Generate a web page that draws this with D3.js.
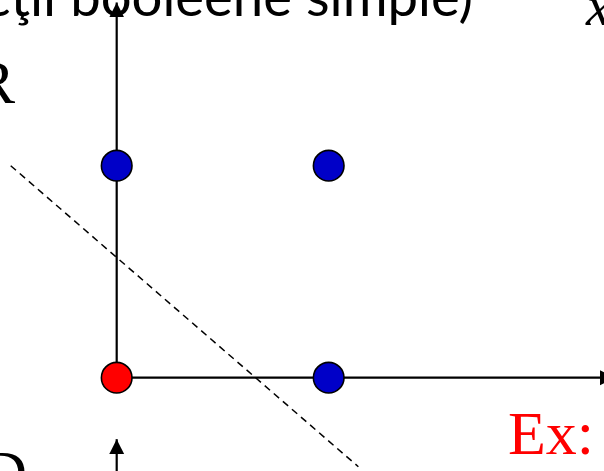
<html>
  <head>
    <meta charset="utf-8" />
    <script src="https://cdnjs.cloudflare.com/ajax/libs/d3/7.8.5/d3.min.js"></script>
    <style>
      body { margin: 0; background: #fff; }
      svg { display: block; }
    </style>
  </head>
  <body>
    <svg width="604" height="471"></svg>
  </body>
  <script>
    // OR truth table: inputs and output
    const x1 = [0, 1, 0, 1];
    const x2 = [0, 0, 1, 1];
    const out = [0, 1, 1, 1];

    // separating line (dashed), two points in input space
    const sepX = [-0.5, 1.14];
    const sepY = [1.0, -0.42];

    const title = "(funcţii booleene simple)";

    const svg = d3.select("svg");
    const xScale = d3.scaleLinear().domain([0, 1]).range([116.7, 328.7]);
    const yScale = d3.scaleLinear().domain([0, 1]).range([377.7, 165.7]);

    svg.append("defs")
      .append("marker")
      .attr("id", "arrow")
      .attr("markerUnits", "userSpaceOnUse")
      .attr("markerWidth", 16)
      .attr("markerHeight", 16)
      .attr("viewBox", "0 -8 16 16")
      .attr("refX", 15)
      .attr("refY", 0)
      .attr("orient", "auto")
      .append("path")
      .attr("d", "M0,-7.5L15,0L0,7.5Z")
      .attr("fill", "#000");

    // title (cut by the top edge)
    svg.append("text")
      .attr("x", 473)
      .attr("y", 16)
      .attr("text-anchor", "end")
      .style("font-family", "Lato, 'Open Sans', sans-serif")
      .style("font-size", "54.5px")
      .text(title);

    // axes
    svg.append("line")
      .attr("x1", xScale(0)).attr("y1", yScale(0))
      .attr("x2", xScale(2.35)).attr("y2", yScale(0))
      .attr("stroke", "#000").attr("stroke-width", 2.2)
      .attr("marker-end", "url(#arrow)");
    svg.append("line")
      .attr("x1", xScale(0)).attr("y1", yScale(0))
      .attr("x2", xScale(0)).attr("y2", yScale(1.77))
      .attr("stroke", "#000").attr("stroke-width", 2.2)
      .attr("marker-end", "url(#arrow)");

    // next panel's vertical axis peeking in at the bottom
    svg.append("line")
      .attr("x1", xScale(0)).attr("y1", yScale(-0.6))
      .attr("x2", xScale(0)).attr("y2", yScale(-0.29))
      .attr("stroke", "#000").attr("stroke-width", 2.2)
      .attr("marker-end", "url(#arrow)");

    // decision boundary
    svg.append("line")
      .attr("x1", xScale(sepX[0])).attr("y1", yScale(sepY[0]))
      .attr("x2", xScale(sepX[1])).attr("y2", yScale(sepY[1]))
      .attr("stroke", "#000").attr("stroke-width", 1.5)
      .attr("stroke-dasharray", "7,5");

    // points
    svg.selectAll("circle.pt")
      .data(x1.map((d, i) => ({ a: d, b: x2[i], o: out[i] })))
      .enter()
      .append("circle")
      .attr("class", "pt")
      .attr("cx", (d) => xScale(d.a))
      .attr("cy", (d) => yScale(d.b))
      .attr("r", 15.3)
      .attr("fill", (d) => (d.o ? "#0000c8" : "#ff0000"))
      .attr("stroke", "#000")
      .attr("stroke-width", 1.6);

    const serif = "'Liberation Serif', 'Times New Roman', serif";

    svg.append("text")
      .attr("x", 15).attr("y", 103)
      .attr("text-anchor", "end")
      .style("font-family", serif).style("font-size", "62px")
      .text("OR");

    svg.append("text")
      .attr("x", 27).attr("y", 493)
      .attr("text-anchor", "end")
      .style("font-family", serif).style("font-size", "62px")
      .text("AND");

    svg.append("text")
      .attr("x", 508).attr("y", 454)
      .style("font-family", serif).style("font-size", "62px")
      .attr("fill", "#ff0000")
      .text("Ex:");

    svg.append("text")
      .attr("x", 586).attr("y", 25)
      .style("font-family", serif).style("font-size", "56px")
      .style("font-style", "italic")
      .text("x");
  </script>
</html>
